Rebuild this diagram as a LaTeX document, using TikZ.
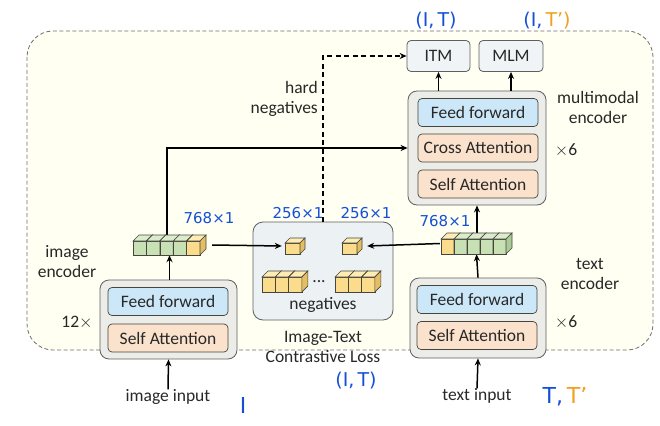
\documentclass[tikz,border=0pt]{standalone}
\usepackage{fontspec}
\setmainfont{Carlito}
\newfontfamily\penfont{DejaVu Sans}
\usetikzlibrary{arrows.meta}
\definecolor{cream}{RGB}{255,255,242}
\definecolor{outerc}{RGB}{110,110,110}
\definecolor{txtc}{RGB}{40,40,40}
\definecolor{encfill}{RGB}{236,236,233}
\definecolor{encdraw}{RGB}{95,95,95}
\definecolor{ffill}{RGB}{204,231,248}
\definecolor{ofill}{RGB}{251,226,204}
\definecolor{headfill}{RGB}{240,244,246}
\definecolor{negfill}{RGB}{236,241,244}
\definecolor{edgec}{RGB}{70,70,60}
\definecolor{gF}{RGB}{200,225,180}
\definecolor{gT}{RGB}{218,236,204}
\definecolor{gS}{RGB}{172,202,152}
\definecolor{yF}{RGB}{250,220,140}
\definecolor{yT}{RGB}{255,236,178}
\definecolor{yS}{RGB}{228,190,100}
\definecolor{penblue}{RGB}{20,80,215}
\definecolor{penorange}{RGB}{240,160,30}
\newcommand\onecube[6]{%
  \filldraw[fill=#6F,draw=edgec,line width=0.6pt] (#1,#2) rectangle ({#1+#3},{#2+#4});
  \filldraw[fill=#6T,draw=edgec,line width=0.6pt] (#1,#2) -- ({#1+#5},{#2-#5}) -- ({#1+#3+#5},{#2-#5}) -- ({#1+#3},#2) -- cycle;
  \filldraw[fill=#6S,draw=edgec,line width=0.6pt] ({#1+#3},#2) -- ({#1+#3+#5},{#2-#5}) -- ({#1+#3+#5},{#2+#4-#5}) -- ({#1+#3},{#2+#4}) -- cycle;}
\newcommand\mytimes{\ensuremath{\times}}
\begin{document}
\begin{tikzpicture}[x=1pt,y=-1pt,
  every node/.style={text=txtc,font=\fontsize{17.5}{19}\selectfont},
  encbox/.style={draw=encdraw,fill=encfill,rounded corners=9pt,line width=0.8pt,inner sep=0pt},
  ffbox/.style={draw=edgec,fill=ffill,rounded corners=4pt,line width=0.7pt,minimum width=120pt,minimum height=28pt,inner sep=0pt},
  attbox/.style={draw=edgec,fill=ofill,rounded corners=4pt,line width=0.7pt,minimum width=120pt,minimum height=28pt,inner sep=0pt},
  headbox/.style={draw=encdraw,fill=headfill,rounded corners=4pt,line width=0.8pt,minimum height=31pt,inner sep=0pt},
  feat/.style={inner sep=0pt},
  lbl/.style={align=center,inner sep=0pt},
  pen/.style={inner sep=0pt,font=\fontsize{15}{17}\penfont,text=penblue},
  bigpen/.style={inner sep=0pt,font=\fontsize{19}{21}\penfont,text=penblue},
  arr/.style={line width=1.5pt,draw=black,-{Stealth[length=7pt,width=6pt]}},
  darr/.style={line width=1.1pt,draw=black,dash pattern=on 5pt off 3.5pt,-{Stealth[length=7pt,width=6pt]}}]
\useasboundingbox (0,0) rectangle (660,425);
% outer frame
\draw[outerc,fill=cream,line width=0.8pt,dash pattern=on 4pt off 2.5pt,rounded corners=26pt] (27,31) rectangle (653,350);

% heads
\node[headbox,minimum width=63pt] (itm) at (438.5,56) {ITM};
\node[headbox,minimum width=64pt] (mlm) at (511,56) {MLM};

% multimodal encoder
\node[encbox,minimum width=138pt,minimum height=114pt] (mm) at (477,148) {};
\node[ffbox] (mmff) at (478,112.5) {Feed forward};
\node[attbox] (mmca) at (478,148) {Cross Attention};
\node[attbox] (mmsa) at (478,184) {Self Attention};
\node[lbl] (mmlbl) at (598,107) {multimodal\\[1pt]encoder};
\node[lbl] (mmx) at (566,150) {\mytimes6};

% image encoder
\node[encbox,minimum width=137pt,minimum height=79pt] (ienc) at (168.5,319.5) {};
\node[ffbox] (ieff) at (168,301.5) {Feed forward};
\node[attbox] (iesa) at (168,338) {Self Attention};
\node[lbl] (ielbl) at (67,262) {image\\[1pt]encoder};
\node[lbl] (iex) at (77,323) {12\mytimes};
\node[lbl] (imginput) at (168,397) {image input};

% text encoder
\node[encbox,minimum width=136pt,minimum height=80pt] (tenc) at (478,318) {};
\node[ffbox] (teff) at (477,299.5) {Feed forward};
\node[attbox] (tesa) at (477,335.5) {Self Attention};
\node[lbl] (telbl) at (590,274) {text\\[1pt]encoder};
\node[lbl] (tex) at (566,322) {\mytimes6};
\node[lbl] (txtinput) at (477,396) {text input};

% contrastive box
\node[draw=encdraw,fill=negfill,rounded corners=10pt,line width=0.8pt,minimum width=140pt,minimum height=98pt,inner sep=0pt] (neg) at (323,271) {};
\node[lbl] (negl) at (323,305) {negatives};
\node[lbl] (dots) at (319,282) {...};
\node[lbl] (itc) at (323,347) {Image-Text\\[1pt]Contrastive Loss};
\node[lbl] (hard) at (318,100) [anchor=east] {\begin{tabular}{@{}r@{}}hard\\[1pt]negatives\end{tabular}};

% feature placeholders
\node[feat,minimum width=73pt,minimum height=20pt] (imgfeat) at (169.5,245) {};
\node[feat,minimum width=71pt,minimum height=21pt] (txtfeat) at (476.5,243.5) {};
\node[feat,minimum width=20pt,minimum height=16pt] (imgpos) at (295,246) {};
\node[feat,minimum width=20pt,minimum height=16pt] (txtpos) at (352,246) {};

% connectors
\draw[arr] (imginput.north) -- (ienc.south);
\draw[arr] (ienc.north -| imgfeat) -- (imgfeat.south);
\draw[arr] ([xshift=-2.5pt]imgfeat.north) |- (mm.west);
\draw[arr] ([xshift=6pt]imgfeat.east) -- ([xshift=-3pt]imgpos.west);
\draw[arr] ([xshift=-1pt]txtfeat.west) -- ([xshift=5pt]txtpos.east);
\draw[arr] (txtinput.north) -- (tenc.south);
\draw[arr] (tenc.north) -- (txtfeat.south);
\draw[arr] (txtfeat.north -| mm) -- (mm.south);
\draw[arr] (mm.north -| itm) -- (itm.south);
\draw[arr] (mm.north -| mlm) -- (mlm.south);
\draw[darr] (neg.north) |- (itm.west);

% cubes
\foreach \cc [count=\i from 0] in {g,g,g,g,y} {\onecube{133+\i*13.4}{241}{13.4}{14}{6}{\cc}}
\foreach \cc [count=\i from 0] in {y,g,g,g,g} {\onecube{441+\i*13}{239}{13}{15}{6}{\cc}}
\onecube{285}{243}{15}{11}{5}{y}
\onecube{342}{243}{15}{11}{5}{y}
\foreach \i in {0,1,2} {\onecube{262+\i*13.3}{277}{13.3}{15}{6}{y}}
\foreach \i in {0,1,2} {\onecube{335+\i*13.3}{277}{13.3}{15}{6}{y}}

% handwritten annotations
\node[bigpen] (a1) at (436,21) {(I,\,T)};
\node[bigpen] (a2) at (547,21) {(I,\,\textcolor{penorange}{T’)}};
\node[pen] (a3) at (209,218) {768×1};
\node[pen] (a4) at (298,213) {256×1};
\node[pen] (a5) at (366,213) {256×1};
\node[pen] (a6) at (445,221) {768×1};
\node[bigpen] (a7) at (356,381) {(I,\,T)};
\node[bigpen,font=\fontsize{22}{24}\penfont] (a8) at (243,405) {I};
\node[bigpen,font=\fontsize{22}{24}\penfont] (a9) at (565,397) {T,\,\textcolor{penorange}{T’}};
\end{tikzpicture}
\end{document}
